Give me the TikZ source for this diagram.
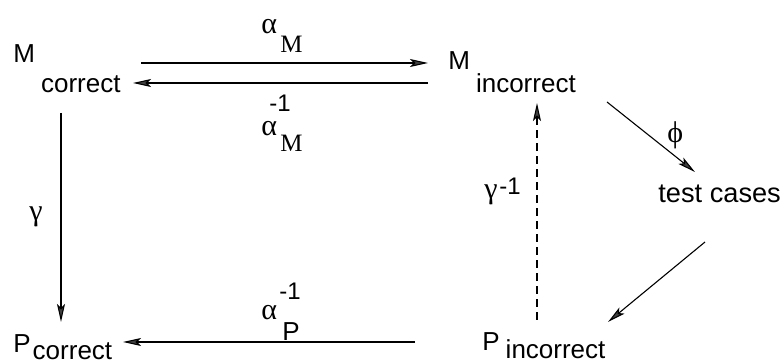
\documentclass[tikz,border=0pt]{standalone}
\usepackage{fontspec}
\setmainfont{Liberation Sans}
\newfontfamily\grk{Liberation Serif}
\usetikzlibrary{arrows.meta}
\tikzset{
  lbl/.style={anchor=base west, inner sep=0pt, font=\fontsize{13}{15}\selectfont},
  grklbl/.style={anchor=base west, inner sep=0pt, font=\grk\fontsize{15}{16}\selectfont},
  sublbl/.style={anchor=base west, inner sep=0pt, font=\grk\fontsize{12.5}{14}\selectfont},
  suplbl/.style={anchor=base west, inner sep=0pt, font=\fontsize{12}{14}\selectfont},
  arr/.style={line width=0.55pt, -{Stealth[length=9pt,width=4pt,inset=2pt,fill=black!75]}},
  dasharr/.style={arr, dash pattern=on 4pt off 2.5pt}
}
\begin{document}
\begin{tikzpicture}[x=0.5pt,y=-0.5pt]
\useasboundingbox (0,0) rectangle (784,363);
% main nodes
\node[lbl] (mc) at (13,63) {M\hspace{3pt}\raisebox{-15pt}{correct}};
\node[lbl] (mi) at (448,70) {M\hspace{3pt}\raisebox{-11.5pt}{incorrect}};
\node[lbl] (pc) at (13,353) {P\hspace{1pt}\raisebox{-3.5pt}{correct}};
\node[lbl] (pi) at (482,351) {P\hspace{3pt}\raisebox{-4pt}{incorrect}};
\node[lbl, font=\fontsize{13.6}{15}\selectfont] (tc) at (658,203) {test cases};
% arrow end points
\coordinate (a1s) at (141,63);  \coordinate (a1e) at (428,63);
\coordinate (a2s) at (428,83);  \coordinate (a2e) at (133,83);
\coordinate (a3s) at (61,113);  \coordinate (a3e) at (61,322);
\coordinate (a4s) at (415,342); \coordinate (a4e) at (123,342);
\coordinate (a5s) at (537,320); \coordinate (a5e) at (537,103);
\coordinate (a6s) at (607,102); \coordinate (a6e) at (695,172);
\coordinate (a7s) at (705,242); \coordinate (a7e) at (608,322);
\draw[arr] (a1s) -- (a1e);
\draw[arr] (a2s) -- (a2e);
\draw[arr] (a3s) -- (a3e);
\draw[arr] (a4s) -- (a4e);
\draw[dasharr] (a5s) -- (a5e);
\draw[arr] (a6s) -- (a6e);
\draw[arr] (a7s) -- (a7e);
% labels
\node[grklbl] (l1a) at (261,34) {α};
\node[sublbl] (l1m) at (280,53) {M};
\node[suplbl] (l2s) at (269,112) {-1};
\node[grklbl] (l2a) at (261,136) {α};
\node[sublbl] (l2m) at (280,152) {M};
\node[grklbl] (lg) at (29,221) {γ};
\node[suplbl] (l4s) at (279,300) {-1};
\node[grklbl] (l4a) at (261,320) {α};
\node[lbl] (l4p) at (282,341) {P};
\node[grklbl] (lgi) at (484,199) {γ};
\node[suplbl] (lgs) at (499,195) {-1};
\node[grklbl] (lphi) at (667,143) {ϕ};
\end{tikzpicture}
\end{document}
